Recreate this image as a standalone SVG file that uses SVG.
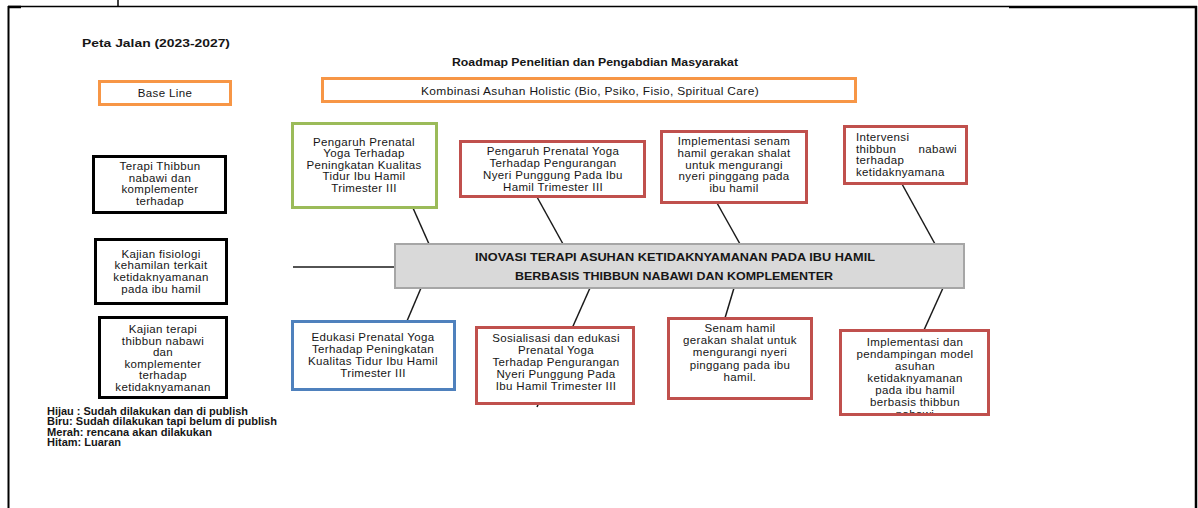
<svg xmlns="http://www.w3.org/2000/svg" width="1198" height="508" viewBox="0 0 1198 508">
<style>
.t{font-family:"Liberation Sans",Arial,sans-serif;font-size:11.5px;letter-spacing:0.35px;fill:#161616;text-anchor:middle}
.l{text-anchor:start}
.e{text-anchor:end}
.b{font-weight:bold;letter-spacing:0}
.s{font-size:10px}
.box{fill:#fff;stroke-width:3}
.or{stroke:#F79646}
.gr{stroke:#9BBB59}
.bl{stroke:#4F81BD}
.rd{stroke:#C0504D}
.bk{stroke:#000}
.conn line{stroke:#1a1a1a;stroke-width:1.5}
</style>
<defs>
<clipPath id="clipImpl"><rect x="842" y="331" width="146" height="82"/></clipPath>
</defs>
<rect width="1198" height="508" fill="#fff"/>
<g id="frame" fill="none" stroke="#000">
<line x1="8" y1="6.5" x2="1009" y2="6.5" stroke-width="1.5"/>
<line x1="1009" y1="7" x2="1197" y2="7" stroke-width="2.5"/>
<line x1="8.5" y1="6" x2="8.5" y2="508" stroke-width="2"/>
<line x1="1196" y1="6" x2="1196" y2="508" stroke-width="2.5"/>
<line x1="8" y1="7" x2="21" y2="7" stroke-width="2.5"/>
<line x1="118" y1="0" x2="118" y2="6" stroke-width="1.5"/>
</g>
<g id="titles">
<text class="t b l" x="82" y="47" font-size="11" textLength="148" lengthAdjust="spacingAndGlyphs">Peta Jalan (2023-2027)</text>
<text class="t b" x="595" y="66" font-size="11" textLength="286" lengthAdjust="spacingAndGlyphs">Roadmap Penelitian dan Pengabdian Masyarakat</text>
</g>
<g class="conn" id="connectors">
<line x1="293" y1="267" x2="395" y2="267"/>
<line x1="413" y1="208" x2="429" y2="244"/>
<line x1="537" y1="197" x2="563" y2="244"/>
<line x1="717" y1="203" x2="740" y2="244"/>
<line x1="902" y1="184" x2="935" y2="244"/>
<line x1="421" y1="288" x2="407" y2="321"/>
<line x1="590" y1="288" x2="537" y2="407"/>
<line x1="734" y1="288" x2="725" y2="318"/>
<line x1="943" y1="288" x2="924" y2="330"/>
</g>
<g id="baseline">
<rect class="box or" x="99.5" y="81.5" width="131" height="23"/>
<text class="t" x="165" y="97">Base Line</text>
</g>
<g id="kombinasi">
<rect class="box or" x="322.5" y="78.5" width="533" height="23"/>
<text class="t" x="590" y="95" textLength="338" lengthAdjust="spacingAndGlyphs">Kombinasi Asuhan Holistic (Bio, Psiko, Fisio, Spiritual Care)</text>
</g>
<g id="luaran1">
<rect class="box bk" x="93.5" y="156.5" width="132" height="56"/>
<text class="t"><tspan x="160" y="170">Terapi Thibbun</tspan><tspan x="160" y="181.7">nabawi dan</tspan><tspan x="160" y="193.3">komplementer</tspan><tspan x="160" y="205">terhadap</tspan></text>
</g>
<g id="luaran2">
<rect class="box bk" x="95.5" y="239.5" width="131" height="64"/>
<text class="t"><tspan x="161" y="257.7">Kajian fisiologi</tspan><tspan x="161" y="269.3">kehamilan terkait</tspan><tspan x="161" y="281">ketidaknyamanan</tspan><tspan x="161" y="292.7">pada ibu hamil</tspan></text>
</g>
<g id="luaran3">
<rect class="box bk" x="99.5" y="317.5" width="127" height="80"/>
<text class="t"><tspan x="163" y="333">Kajian terapi</tspan><tspan x="163" y="344.5">thibbun nabawi</tspan><tspan x="163" y="356">dan</tspan><tspan x="163" y="367.5">komplementer</tspan><tspan x="163" y="379">terhadap</tspan><tspan x="163" y="390.5">ketidaknyamanan</tspan></text>
</g>
<g id="legend">
<text class="t b l s" x="47" y="414.5" textLength="201" lengthAdjust="spacingAndGlyphs">Hijau : Sudah dilakukan dan di publish</text>
<text class="t b l s" x="47" y="425" textLength="230" lengthAdjust="spacingAndGlyphs">Biru: Sudah dilakukan tapi belum di publish</text>
<text class="t b l s" x="47" y="435.5" textLength="165" lengthAdjust="spacingAndGlyphs">Merah: rencana akan dilakukan</text>
<text class="t b l s" x="47" y="446" textLength="74" lengthAdjust="spacingAndGlyphs">Hitam: Luaran</text>
</g>
<g id="green-yoga-tidur">
<rect class="box gr" x="292.5" y="123.5" width="144" height="84"/>
<text class="t"><tspan x="364" y="145.7">Pengaruh Prenatal</tspan><tspan x="364" y="157.3">Yoga Terhadap</tspan><tspan x="364" y="168.8">Peningkatan Kualitas</tspan><tspan x="364" y="180.3">Tidur Ibu Hamil</tspan><tspan x="364" y="191.8">Trimester III</tspan></text>
</g>
<g id="red-yoga-nyeri">
<rect class="box rd" x="460.5" y="141.5" width="184" height="55"/>
<text class="t"><tspan x="553" y="155">Pengaruh Prenatal Yoga</tspan><tspan x="553" y="166.9">Terhadap Pengurangan</tspan><tspan x="553" y="178.8">Nyeri Punggung Pada Ibu</tspan><tspan x="553" y="190.7">Hamil Trimester III</tspan></text>
</g>
<g id="red-senam-impl">
<rect class="box rd" x="661.5" y="131.5" width="145" height="71"/>
<text class="t"><tspan x="734" y="144.7">Implementasi senam</tspan><tspan x="734" y="156.6">hamil gerakan shalat</tspan><tspan x="734" y="168.5">untuk mengurangi</tspan><tspan x="734" y="180.4">nyeri pinggang pada</tspan><tspan x="734" y="192.3">ibu hamil</tspan></text>
</g>
<g id="red-intervensi">
<rect class="box rd" x="844.5" y="126.5" width="122" height="57"/>
<text class="t l" x="856" y="141">Intervensi</text>
<text class="t l" x="856" y="152.7">thibbun</text>
<text class="t e" x="957" y="152.7">nabawi</text>
<text class="t l" x="856" y="164.4">terhadap</text>
<text class="t l" x="856" y="176">ketidaknyamana</text>
</g>
<g id="center">
<rect x="395" y="244" width="569" height="44" fill="#D9D9D9" stroke="#A6A6A6" stroke-width="2"/>
<text class="t b" x="675" y="261" font-size="10.5" textLength="400" lengthAdjust="spacingAndGlyphs">INOVASI TERAPI ASUHAN KETIDAKNYAMANAN PADA IBU HAMIL</text>
<text class="t b" x="674" y="280" font-size="10.5" textLength="318" lengthAdjust="spacingAndGlyphs">BERBASIS THIBBUN NABAWI DAN KOMPLEMENTER</text>
</g>
<g id="blue-edukasi">
<rect class="box bl" x="292.5" y="321.5" width="162" height="68"/>
<text class="t"><tspan x="373" y="341">Edukasi Prenatal Yoga</tspan><tspan x="373" y="353">Terhadap Peningkatan</tspan><tspan x="373" y="365">Kualitas Tidur Ibu Hamil</tspan><tspan x="373" y="376.5">Trimester III</tspan></text>
</g>
<g id="red-sosialisasi">
<rect class="box rd" x="476.5" y="327.5" width="157" height="76"/>
<text class="t"><tspan x="556" y="342">Sosialisasi dan edukasi</tspan><tspan x="556" y="353.9">Prenatal Yoga</tspan><tspan x="556" y="365.8">Terhadap Pengurangan</tspan><tspan x="556" y="377.7">Nyeri Punggung Pada</tspan><tspan x="556" y="389.6">Ibu Hamil Trimester III</tspan></text>
</g>
<g id="red-senam">
<rect class="box rd" x="668.5" y="318.5" width="143" height="80"/>
<text class="t"><tspan x="740" y="332">Senam hamil</tspan><tspan x="740" y="344.2">gerakan shalat untuk</tspan><tspan x="740" y="356.4">mengurangi nyeri</tspan><tspan x="740" y="368.6">pinggang pada ibu</tspan><tspan x="740" y="380.8">hamil.</tspan></text>
</g>
<g id="red-implementasi">
<rect class="box rd" x="840.5" y="330.5" width="148" height="84"/>
<text class="t" clip-path="url(#clipImpl)"><tspan x="915" y="346">Implementasi dan</tspan><tspan x="915" y="358">pendampingan model</tspan><tspan x="915" y="370">asuhan</tspan><tspan x="915" y="382">ketidaknyamanan</tspan><tspan x="915" y="394">pada ibu hamil</tspan><tspan x="915" y="406">berbasis thibbun</tspan><tspan x="915" y="418">nabawi</tspan></text>
</g>
</svg>
